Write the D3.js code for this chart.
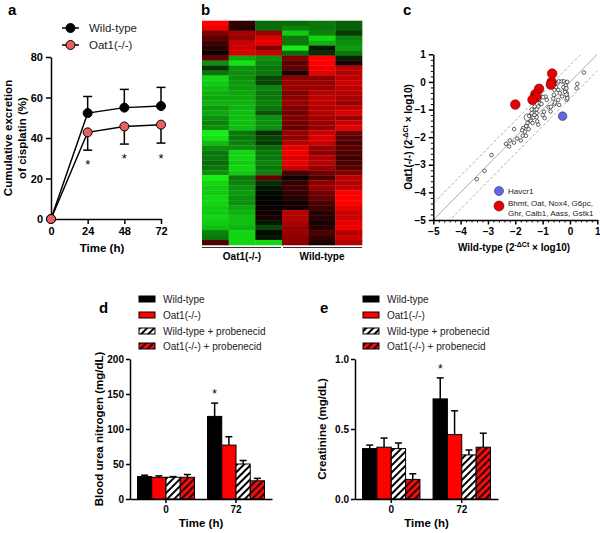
<!DOCTYPE html>
<html><head><meta charset="utf-8">
<script src="https://cdn.jsdelivr.net/npm/d3@7"></script>
<style>body{margin:0;background:#fff}svg{display:block}</style>
</head><body><svg id="c" width="600" height="533"></svg>
<script>
// ---------- DATA ----------
// Panel a
const timesA = [0, 24, 48, 72];
const wtA = [0, 52.3, 55.0, 55.8];
const wtAErr = [0, 8.2, 9.0, 9.2];
const koA = [0, 42.8, 45.7, 46.6];
const koAErr = [0, 8.8, 8.7, 9.1];
const starsA = [[24, 27], [48, 30], [72, 30]];
const yTicksA = [0, 20, 40, 60, 80];
const legendA = ["Wild-type", "Oat1(-/-)"];

// Panel b (heatmap, rows x 6 samples: Oat1(-/-) x3, Wild-type x3; -1 green .. +1 red)
const heatGroups = ["Oat1(-/-)", "Wild-type"];
const heatRows = [
 [1.0, 0.2, -0.45, -0.45, -0.5, -0.4],
 [0.9, 0.15, -0.45, -0.55, -0.5, -0.4],
 [0.5, 0.65, 0.6, -0.85, -0.55, -0.25],
 [0.35, 0.6, 0.85, -0.5, -0.9, -0.55],
 [0.25, 0.8, 0.9, -0.5, -0.75, -0.6],
 [0.15, 0.8, 0.5, -1.0, -0.1, -0.65],
 [0.05, 0.85, 0.8, -0.45, -0.2, -0.5],
 [0.4, -0.7, -0.6, 0.5, 1.0, -0.15],
 [-0.6, -0.95, -0.55, 0.35, 1.0, 0.1],
 [-0.2, -0.6, -0.5, 0.4, 0.95, 0.7],
 [-0.5, -0.6, -0.5, 0.1, 0.9, 0.7],
 [-0.9, -0.6, -0.3, 0.55, 0.55, 0.75],
 [-0.85, -0.65, -0.3, 0.6, 0.6, 0.8],
 [-0.8, -0.65, -0.55, 0.6, 0.6, 0.75],
 [-0.75, -0.7, -0.5, 0.5, 0.7, 0.7],
 [-0.7, -0.7, -0.5, 0.55, 0.75, 0.65],
 [-0.75, -0.75, -0.55, 0.6, 0.75, 0.6],
 [-0.65, -0.75, -0.5, 0.5, 0.7, 0.75],
 [-0.7, -0.8, -0.35, 0.45, 0.7, 0.85],
 [-0.6, -0.8, -0.6, 0.5, 0.65, 0.6],
 [-0.55, -0.8, -0.6, 0.45, 0.6, 0.8],
 [-0.6, -0.8, -0.6, 0.4, 0.6, 0.9],
 [-1.0, -0.5, -0.2, 0.6, 0.8, 0.45],
 [-0.95, -0.5, -0.3, 0.55, 0.85, 0.35],
 [-0.8, -0.55, -0.25, 0.7, 0.8, 0.3],
 [-0.6, -0.6, -0.45, 0.9, 0.6, 0.35],
 [-0.5, -0.9, -0.5, 0.95, 0.55, 0.3],
 [-0.5, -0.9, -0.5, 0.85, 0.7, 0.25],
 [-0.45, -0.85, -0.55, 0.9, 0.7, 0.3],
 [-0.5, -0.9, -0.5, 0.8, 0.6, 0.35],
 [-0.6, -0.85, -0.55, 0.3, 0.45, 0.5],
 [-1.0, -0.5, 0.4, 0.05, 0.3, 0.75],
 [-0.9, -0.55, -0.2, 0.2, 0.55, 0.7],
 [-0.85, -0.6, -0.1, 0.25, 0.6, 0.75],
 [-0.85, -0.65, -0.05, 0.2, 0.45, 1.0],
 [-0.9, -0.6, -0.02, 0.15, 0.4, 1.0],
 [-0.9, -0.6, 0.02, 0.05, 0.3, 1.0],
 [-0.85, -0.7, 0.05, 0.1, 0.25, 0.9],
 [-0.85, -0.75, 0.08, 0.7, 0.15, 0.8],
 [-0.9, -0.8, 0.1, 0.7, 0.15, 0.8],
 [-0.85, -0.8, -0.1, 0.65, 0.1, 0.9],
 [-0.8, -0.75, -0.3, 0.6, 0.15, 0.95],
 [-0.55, -0.9, -0.05, 0.6, 0.3, 0.7],
 [-0.5, -0.9, -0.1, 0.55, 0.2, 0.8],
 [0.3, -0.9, -0.9, 0.55, 0.1, 0.7]
];

// Panel c (scatter)
const ticksC = [-5, -4, -3, -2, -1, 0, 1];
const openX = [-3.41,-3.13,-2.87,-2.34,-2.23,-2.2,-2.04,-1.93,-1.8,-1.71,-1.73,-1.65,-1.61,-1.59,-1.55,-1.51,-1.44,-1.49,-1.4,-1.34,-1.29,-1.22,-1.2,-1.29,-1.12,-1.1,-1.04,-1.22,-1.22,-0.95,-0.93,-0.71,-0.78,-0.57,-0.43,-0.4,-0.61,-0.59,-0.57,-0.51,-0.46,-0.41,-0.3,-0.22,-0.16,-0.24,-0.17,-0.12,-0.1,-0.12,-0.29,-0.37,-0.43,0.27,0.24,0.51,-0.85,-0.89,-0.98,-1.1,-1.16,-1.37,-1.16,-0.1,-0.15,-0.13,-0.18,-0.13,-0.1,-0.55,-0.7,-1.0,-1.3,-1.4,-1.6,-1.75,-2.05];
const openY = [-3.52,-3.22,-2.65,-2.24,-2.34,-2.12,-1.71,-2.05,-2.12,-1.67,-1.95,-1.8,-1.95,-1.59,-1.49,-1.71,-1.4,-1.23,-1.13,-1.29,-1.01,-1.28,-1.43,-0.89,-0.63,-0.77,-0.8,-1.13,-0.99,-1.08,-1.31,-1.07,-0.92,-0.81,-0.65,-0.83,-0.6,-0.47,-0.29,-0.19,-0.05,0.02,0.02,0.02,-0.05,-0.19,-0.29,-0.41,-0.53,-0.65,-0.53,-0.41,-0.29,-0.07,-0.23,0.34,-0.65,-0.53,-0.55,-0.47,-0.89,-1.49,-1.55,0.0,-0.13,-0.23,-0.37,-0.46,-0.59,-0.75,-0.9,-1.2,-1.2,-1.0,-1.6,-1.75,-2.2];
const bigOpenX = [-1.55];
const bigOpenY = [-1.28];
const redX = [-2.0, -0.65, -0.67, -0.7, -1.13, -1.27, -1.24, -1.37];
const redY = [-0.82, 0.3, 0.0, -0.1, -0.25, -0.45, -0.55, -0.65];
const blueX = [-0.27];
const blueY = [-1.24];
const foldLine = 0.602; // log10(4)
const legendC = ["Havcr1", "Bhmt, Oat, Nox4, G6pc,", "Ghr, Calb1, Aass, Gstk1"];

// Panels d, e
const groupsDE = ["0", "72"];
const seriesDE = ["Wild-type", "Oat1(-/-)", "Wild-type + probenecid", "Oat1(-/-) + probenecid"];
const bunVal = [[32, 31, 31, 31], [118, 77, 50, 26]];
const bunErr = [[2, 2, 1, 4], [19, 12, 5, 3.5]];
const bunTicks = [0, 50, 100, 150, 200];
const creVal = [[0.36, 0.37, 0.36, 0.14], [0.715, 0.46, 0.315, 0.37]];
const creErr = [[0.025, 0.065, 0.04, 0.04], [0.15, 0.17, 0.035, 0.1]];
const creTicks = [0, 0.5, 1.0];

// ---------- DRAW ----------
const FONT = "Arial, 'Liberation Sans', sans-serif";
const svg = d3.select("#c").attr("font-family", FONT);
svg.append("rect").attr("width", 600).attr("height", 533).attr("fill", "#fff");
const defs = svg.append("defs");

function styleAxis(g, fs) {
  g.attr("font-family", FONT).attr("font-size", fs).attr("font-weight", "bold");
  g.selectAll("path.domain").attr("stroke", "#000").attr("stroke-width", 1.5);
  g.selectAll(".tick line").attr("stroke", "#000").attr("stroke-width", 1.5);
  g.selectAll(".tick text").attr("fill", "#000");
}
function label(x, y, s, o = {}) {
  const t = svg.append("text").attr("x", x).attr("y", y).text(s)
    .attr("font-size", o.fs || 11).attr("font-weight", o.bold === false ? "normal" : "bold")
    .attr("text-anchor", o.anchor || "middle").attr("fill", o.fill || "#000");
  if (o.rot) t.attr("transform", `rotate(-90,${x},${y})`);
  return t;
}

// panel letters
[["a", 8, 15], ["b", 201, 15], ["c", 403, 15], ["d", 99, 313], ["e", 320, 313]].forEach(d =>
  label(d[1], d[2], d[0], { fs: 15, anchor: "start" }));

// ===== Panel a =====
const xA = d3.scaleLinear().domain([0, 72]).range([51, 161]);
const yA = d3.scaleLinear().domain([0, 80]).range([219, 57]);
styleAxis(svg.append("g").attr("transform", "translate(0,219)")
  .call(d3.axisBottom(xA).tickValues(timesA).tickSize(5).tickSizeOuter(0).tickPadding(3)), 11);
styleAxis(svg.append("g").attr("transform", "translate(51,0)")
  .call(d3.axisLeft(yA).tickValues(yTicksA).tickSize(5).tickSizeOuter(0).tickPadding(3)), 11);
label(102, 252, "Time (h)", { fs: 11.5 });
label(12, 138, "Cumulative excretion", { fs: 11.5, rot: true });
label(26, 138, "of cisplatin (%)", { fs: 11.5, rot: true });

const lineA = d3.line().x((d, i) => xA(timesA[i])).y(d => yA(d));
function errA(vals, errs, dir) {
  timesA.forEach((t, i) => {
    if (!errs[i]) return;
    const y2 = yA(vals[i] + dir * errs[i]);
    svg.append("line").attr("x1", xA(t)).attr("x2", xA(t)).attr("y1", yA(vals[i])).attr("y2", y2).attr("stroke", "#000").attr("stroke-width", 1.5);
    svg.append("line").attr("x1", xA(t) - 4.5).attr("x2", xA(t) + 4.5).attr("y1", y2).attr("y2", y2).attr("stroke", "#000").attr("stroke-width", 1.5);
  });
}
errA(wtA, wtAErr, 1);
errA(koA, koAErr, -1);
svg.append("path").attr("d", lineA(wtA)).attr("fill", "none").attr("stroke", "#000").attr("stroke-width", 1.5);
svg.append("path").attr("d", lineA(koA)).attr("fill", "none").attr("stroke", "#000").attr("stroke-width", 1.5);
svg.selectAll(null).data(wtA).enter().append("circle").attr("cx", (d, i) => xA(timesA[i])).attr("cy", d => yA(d)).attr("r", 4.5).attr("fill", "#000").attr("stroke", "#000");
svg.selectAll(null).data(koA).enter().append("circle").attr("cx", (d, i) => xA(timesA[i])).attr("cy", d => yA(d)).attr("r", 4.5).attr("fill", "#e8605f").attr("stroke", "#000").attr("stroke-width", 1);
starsA.forEach(s => label(xA(s[0]), yA(s[1]) + 5, "*", { fs: 13, bold: false, fill: "#000" }));
// legend a
[[28, "#000"], [45, "#e8605f"]].forEach((r, i) => {
  svg.append("line").attr("x1", 62).attr("x2", 79).attr("y1", r[0]).attr("y2", r[0]).attr("stroke", "#000").attr("stroke-width", 1.5);
  svg.append("circle").attr("cx", 70.5).attr("cy", r[0]).attr("r", 4.5).attr("fill", r[1]).attr("stroke", "#000");
  label(89, r[0] + 4, legendA[i], { fs: 11.5, bold: false, anchor: "start", fill: "#222" });
});

// ===== Panel b =====
const colB = d3.scaleBand().domain(d3.range(6)).range([202, 362]);
const rowB = d3.scaleBand().domain(d3.range(heatRows.length)).range([20.7, 245]);
const colorB = d3.scaleLinear().domain([-1, 0, 1]).range(["#14ee14", "#000000", "#ff0000"]);
heatRows.forEach((row, r) => {
  svg.selectAll(null).data(row).enter().append("rect")
    .attr("x", (d, c) => colB(c)).attr("y", rowB(r))
    .attr("width", colB.bandwidth() + 0.3).attr("height", rowB.bandwidth() + 0.3)
    .attr("fill", d => colorB(d));
});
[[202, 281, 242], [283, 362, 322]].forEach((s, i) => {
  svg.append("line").attr("x1", s[0]).attr("x2", s[1]).attr("y1", 247.5).attr("y2", 247.5).attr("stroke", "#333").attr("stroke-width", 1);
  label(s[2], 260, heatGroups[i], { fs: 10 });
});

// ===== Panel c =====
const xC = d3.scaleLinear().domain([-5, 1]).range([433.3, 597.3]);
const yC = d3.scaleLinear().domain([-5, 1]).range([220, 54.3]);
defs.append("clipPath").attr("id", "clipC").append("rect").attr("x", 433.3).attr("y", 54.3).attr("width", 164).attr("height", 165.7);
const gL = svg.append("g").attr("clip-path", "url(#clipC)");
[[0, "none", 1], [foldLine, "3,2", 0.8], [-foldLine, "3,2", 0.8]].forEach(l => {
  gL.append("line").attr("x1", xC(-6)).attr("y1", yC(-6 + l[0])).attr("x2", xC(2)).attr("y2", yC(2 + l[0]))
    .attr("stroke", l[1] === "none" ? "#aaa" : "#999").attr("stroke-width", l[2]).attr("stroke-dasharray", l[1]);
});
const minorC = d3.range(-5, 1.001, 0.2).filter(v => Math.abs(v - Math.round(v)) > 0.01);
svg.append("g").attr("transform", "translate(0,220)").call(d3.axisBottom(xC).tickValues(minorC).tickSize(2.5).tickFormat("").tickSizeOuter(0))
  .call(g => { g.select(".domain").remove(); g.selectAll("line").attr("stroke", "#000"); });
svg.append("g").attr("transform", "translate(433.3,0)").call(d3.axisLeft(yC).tickValues(minorC).tickSize(2.5).tickFormat("").tickSizeOuter(0))
  .call(g => { g.select(".domain").remove(); g.selectAll("line").attr("stroke", "#000"); });
styleAxis(svg.append("g").attr("transform", "translate(0,220)")
  .call(d3.axisBottom(xC).tickValues(ticksC).tickSize(4.5).tickSizeOuter(0).tickPadding(3).tickFormat(d3.format("d"))), 10);
styleAxis(svg.append("g").attr("transform", "translate(433.3,0)")
  .call(d3.axisLeft(yC).tickValues(ticksC).tickSize(4.5).tickSizeOuter(0).tickPadding(3).tickFormat(d3.format("d"))), 10);
svg.selectAll(null).data(openX).enter().append("circle").attr("cx", d => xC(d)).attr("cy", (d, i) => yC(openY[i])).attr("r", 1.8).attr("fill", "#fff").attr("stroke", "#222").attr("stroke-width", 0.7);
svg.selectAll(null).data(bigOpenX).enter().append("circle").attr("cx", d => xC(d)).attr("cy", (d, i) => yC(bigOpenY[i])).attr("r", 3.5).attr("fill", "none").attr("stroke", "#444").attr("stroke-width", 0.7);
svg.selectAll(null).data(redX).enter().append("circle").attr("cx", d => xC(d)).attr("cy", (d, i) => yC(redY[i])).attr("r", 4.8).attr("fill", "#e60000").attr("stroke", "#600").attr("stroke-width", 0.6);
svg.selectAll(null).data(blueX).enter().append("circle").attr("cx", d => xC(d)).attr("cy", (d, i) => yC(blueY[i])).attr("r", 4.3).attr("fill", "#6464e6").attr("stroke", "#335").attr("stroke-width", 0.6);
// legend c
svg.append("circle").attr("cx", 499).attr("cy", 191).attr("r", 4.5).attr("fill", "#6464e6").attr("stroke", "#335").attr("stroke-width", 0.6);
svg.append("circle").attr("cx", 499).attr("cy", 206).attr("r", 5).attr("fill", "#e60000").attr("stroke", "#600").attr("stroke-width", 0.6);
label(508, 194, legendC[0], { fs: 8, bold: false, anchor: "start", fill: "#222" });
label(508, 206, legendC[1], { fs: 8, bold: false, anchor: "start", fill: "#222" });
label(508, 216, legendC[2], { fs: 8, bold: false, anchor: "start", fill: "#222" });
// axis titles with superscript
function supLabel(x, y, pre, sup, post, rot) {
  const t = svg.append("text").attr("x", x).attr("y", y).attr("text-anchor", "middle").attr("font-size", 10).attr("font-weight", "bold");
  t.append("tspan").text(pre);
  t.append("tspan").text(sup).attr("font-size", 7).attr("dy", -4);
  t.append("tspan").text(post).attr("dy", 4);
  if (rot) t.attr("transform", `rotate(-90,${x},${y})`);
}
supLabel(514, 251, "Wild-type (2", "-ΔCt", " × log10)", false);
supLabel(412, 137, "Oat1(-/-) (2", "-ΔCt", " × log10)", true);

// ===== Panels d, e =====
function hatch(id, bg, fg) {
  const p = defs.append("pattern").attr("id", id).attr("patternUnits", "userSpaceOnUse")
    .attr("width", 5).attr("height", 5).attr("patternTransform", "rotate(45)");
  p.append("rect").attr("width", 5).attr("height", 5).attr("fill", bg);
  p.append("rect").attr("width", 2).attr("height", 5).attr("fill", fg);
}
hatch("hW", "#fff", "#000");
hatch("hR", "#ee1010", "#300");
const fills = ["#000", "#ff0000", "url(#hW)", "url(#hR)"];

function barPanel(cfg) {
  const x = d3.scaleBand().domain(groupsDE).range(cfg.xr).paddingInner(0.186).paddingOuter(0.107);
  const xi = d3.scaleBand().domain(d3.range(4)).range([0, x.bandwidth()]);
  const y = d3.scaleLinear().domain(cfg.ydom).range([499, 359]);
  groupsDE.forEach((g, gi) => {
    cfg.vals[gi].forEach((v, si) => {
      const bx = x(g) + xi(si), bw = xi.bandwidth();
      const cx = bx + bw / 2, yt = y(v + cfg.errs[gi][si]);
      svg.append("line").attr("x1", cx).attr("x2", cx).attr("y1", y(v)).attr("y2", yt).attr("stroke", "#000").attr("stroke-width", 1.5);
      svg.append("line").attr("x1", cx - 3.5).attr("x2", cx + 3.5).attr("y1", yt).attr("y2", yt).attr("stroke", "#000").attr("stroke-width", 1.5);
      svg.append("rect").attr("x", bx).attr("y", y(v)).attr("width", bw).attr("height", y(0) - y(v))
        .attr("fill", fills[si]).attr("stroke", "#000").attr("stroke-width", 1);
    });
  });
  styleAxis(svg.append("g").attr("transform", "translate(0,499)")
    .call(d3.axisBottom(x).tickSize(4).tickSizeOuter(0).tickPadding(3)), 10);
  styleAxis(svg.append("g").attr("transform", `translate(${cfg.xr[0]},0)`)
    .call(d3.axisLeft(y).tickValues(cfg.ticks).tickSize(4).tickSizeOuter(0).tickPadding(2).tickFormat(cfg.fmt)), 10);
  // star
  const sv = cfg.vals[1][0] + cfg.errs[1][0];
  label(x("72") + xi(0) + xi.bandwidth() / 2, y(sv) - 5, "*", { fs: 12, bold: false, fill: "#000" });
  label((cfg.xr[0] + cfg.xr[1]) / 2, 527, "Time (h)", { fs: 11.5 });
  label(cfg.ylx, 429, cfg.ylabel, { fs: 11.5, rot: true });
  // legend
  [299, 315, 331, 346].forEach((ry, si) => {
    svg.append("rect").attr("x", cfg.lx).attr("y", ry - 3).attr("width", 16).attr("height", 6).attr("fill", fills[si]).attr("stroke", "#000").attr("stroke-width", 1);
    label(cfg.lx + 24, ry + 3.5, seriesDE[si], { fs: 10, bold: false, anchor: "start", fill: "#222" });
  });
}
barPanel({ xr: [130, 272], ydom: [0, 200], vals: bunVal, errs: bunErr, ticks: bunTicks, fmt: d3.format("d"),
  ylabel: "Blood urea nitrogen (mg/dL)", ylx: 103, lx: 139 });
barPanel({ xr: [355, 498], ydom: [0, 1], vals: creVal, errs: creErr, ticks: creTicks, fmt: d3.format(".1f"),
  ylabel: "Creatinine (mg/dL)", ylx: 326, lx: 363 });
</script></body></html>
